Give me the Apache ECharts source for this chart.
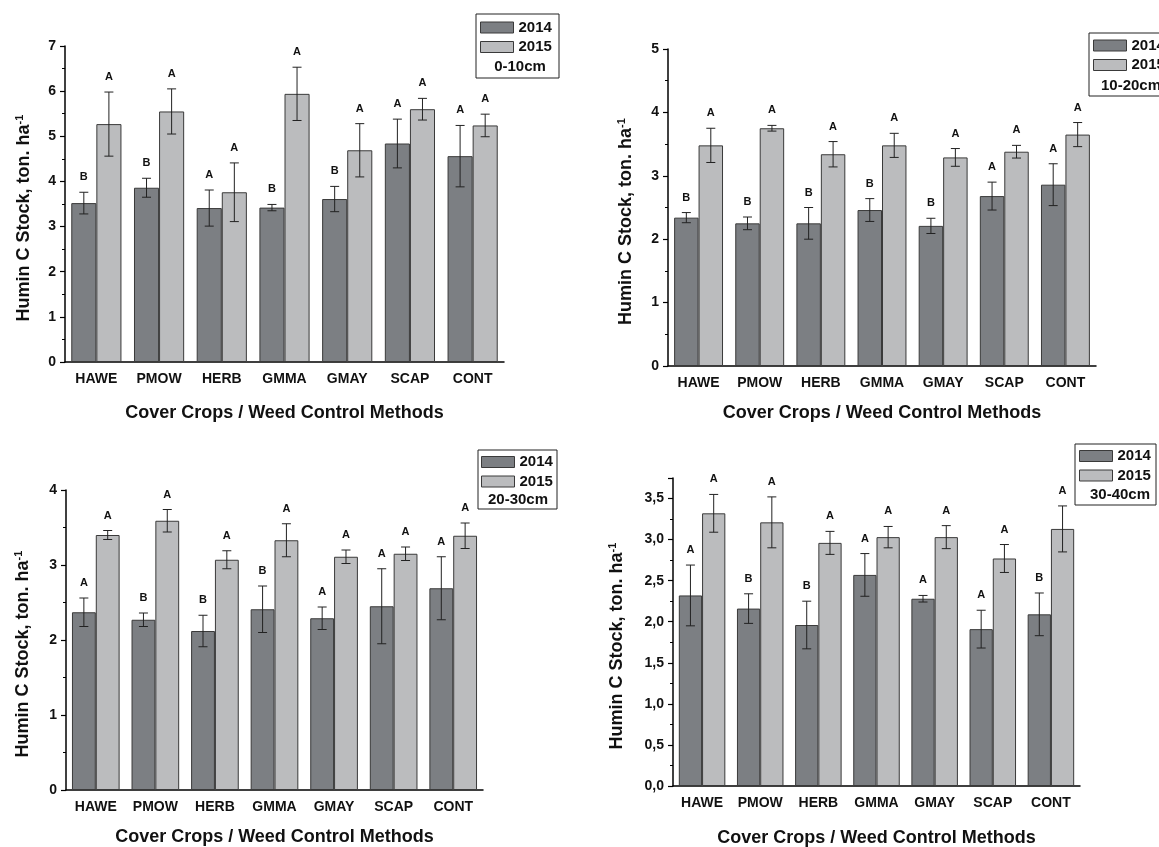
<!DOCTYPE html>
<html>
<head>
<meta charset="utf-8">
<script src="https://cdn.jsdelivr.net/npm/echarts@6/dist/echarts.min.js"></script>
<style>
html,body{margin:0;padding:0;background:#fff;}
#chart{width:1159px;height:847px;}
</style>
</head>
<body>
<div id="chart"></div>
<script>
// ---------------- DATA ----------------
const categories = ['HAWE','PMOW','HERB','GMMA','GMAY','SCAP','CONT'];
const seriesNames = ['2014','2015'];
const depthLabels = ['0-10cm','10-20cm','20-30cm','30-40cm'];
const yTitle = 'Humin C Stock, ton. ha';
const xTitle = 'Cover Crops / Weed Control Methods';

// 0-10cm
const d1_2014 = [3.52,3.86,3.41,3.42,3.61,4.84,4.56];
const e1_2014 = [0.24,0.21,0.40,0.07,0.28,0.54,0.68];
const d1_2015 = [5.27,5.55,3.76,5.94,4.69,5.60,5.24];
const e1_2015 = [0.71,0.50,0.65,0.59,0.59,0.24,0.25];
const l1_2014 = ['B','B','A','B','B','A','A'];
const l1_2015 = ['A','A','A','A','A','A','A'];

// 10-20cm
const d2_2014 = [2.34,2.25,2.25,2.46,2.21,2.68,2.86];
const e2_2014 = [0.08,0.10,0.25,0.18,0.12,0.22,0.33];
const d2_2015 = [3.48,3.75,3.34,3.48,3.29,3.38,3.65];
const e2_2015 = [0.27,0.045,0.20,0.19,0.14,0.10,0.19];
const l2_2014 = ['B','B','B','B','B','A','A'];
const l2_2015 = ['A','A','A','A','A','A','A'];

// 20-30cm
const d3_2014 = [2.37,2.27,2.12,2.41,2.29,2.45,2.69];
const e3_2014 = [0.19,0.09,0.21,0.31,0.15,0.50,0.42];
const d3_2015 = [3.40,3.59,3.07,3.33,3.11,3.15,3.39];
const e3_2015 = [0.06,0.15,0.12,0.22,0.09,0.09,0.17];
const l3_2014 = ['A','B','B','B','A','A','A'];
const l3_2015 = ['A','A','A','A','A','A','A'];

// 30-40cm
const d4_2014 = [2.32,2.16,1.96,2.57,2.28,1.91,2.09];
const e4_2014 = [0.37,0.18,0.29,0.26,0.04,0.23,0.26];
const d4_2015 = [3.32,3.21,2.96,3.03,3.03,2.77,3.13];
const e4_2015 = [0.23,0.31,0.14,0.13,0.14,0.17,0.28];
const l4_2014 = ['A','B','B','A','A','A','B'];
const l4_2015 = ['A','A','A','A','A','A','A'];

const yMax = [7,5,4,3.75];
const yInterval = [1,1,1,0.5];

// ---------------- STYLE / LAYOUT ----------------
const FONT = '"Liberation Sans", Arial, sans-serif';
const COL_DARK = '#7c7f83';
const COL_LIGHT = '#bbbcbe';
const COL_EDGE = '#3a3a3a';

const panels = [
  {d:[d1_2014,d1_2015], e:[e1_2014,e1_2015], l:[l1_2014,l1_2015],
   grid:{left:65, top:46, width:439, height:316}, yGap:30, xGap:42, comma:false,
   legend:{left:480, top:19.5}, box:[476,14,83,64], depth:[520,67]},
  {d:[d2_2014,d2_2015], e:[e2_2014,e2_2015], l:[l2_2014,l2_2015],
   grid:{left:668, top:49, width:428, height:317}, yGap:31, xGap:38, comma:false,
   legend:{left:1093, top:37.5}, box:[1089,33,95,63], depth:[1131,86]},
  {d:[d3_2014,d3_2015], e:[e3_2014,e3_2015], l:[l3_2014,l3_2015],
   grid:{left:66, top:490, width:417, height:300}, yGap:32, xGap:38, comma:false,
   legend:{left:481, top:454}, box:[478,450,79,59], depth:[518,500]},
  {d:[d4_2014,d4_2015], e:[e4_2014,e4_2015], l:[l4_2014,l4_2015],
   grid:{left:673, top:478, width:407, height:308}, yGap:45, xGap:43, comma:true,
   legend:{left:1079, top:448}, box:[1075,444,81,61], depth:[1120,495]}
];

const grids = [], xAxes = [], yAxes = [], series = [], legends = [], graphics = [];

function errRender(errs, letters, side) {
  return function (params, api) {
    const i = api.value(0), v = api.value(1);
    const e = errs[params.dataIndex];
    const band = api.size([1, 0])[0];
    const c = api.coord([i, v]);
    const x = c[0] + side * 0.2 * band;
    const top = api.coord([i, v + e])[1];
    const bot = api.coord([i, v - e])[1];
    const cap = 4.5;
    const ls = {stroke: '#222', lineWidth: 1};
    return {
      type: 'group',
      children: [
        {type: 'line', shape: {x1: x, y1: top, x2: x, y2: bot}, style: ls},
        {type: 'line', shape: {x1: x - cap, y1: top, x2: x + cap, y2: top}, style: ls},
        {type: 'line', shape: {x1: x - cap, y1: bot, x2: x + cap, y2: bot}, style: ls},
        {type: 'text', x: x, y: top - 15,
         style: {text: letters[params.dataIndex], fill: '#111',
                 font: 'bold 11px ' + FONT, align: 'center', verticalAlign: 'middle'}}
      ]
    };
  };
}

panels.forEach(function (p, k) {
  grids.push(Object.assign({outerBoundsMode: 'none', containLabel: false}, p.grid));
  // main category axis (ticks at category centres)
  xAxes.push({
    type: 'category', gridIndex: k, data: categories,
    name: xTitle, nameLocation: 'middle', nameGap: p.xGap,
    nameTextStyle: {fontFamily: FONT, fontWeight: 'bold', fontSize: 18, color: '#111'},
    axisLine: {lineStyle: {color: '#000', width: 1.5}},
    axisTick: {alignWithLabel: true, length: 6, lineStyle: {color: '#000', width: 1.2}},
    axisLabel: {fontFamily: FONT, fontWeight: 'bold', fontSize: 14, color: '#111', margin: 10, interval: 0}
  });
  // overlay axis for short ticks at category boundaries
  xAxes.push({
    type: 'category', gridIndex: k, data: categories,
    axisLine: {show: false},
    axisTick: {alignWithLabel: false, length: 3, lineStyle: {color: '#000', width: 1.2}},
    axisLabel: {show: false}
  });
  yAxes.push({
    type: 'value', gridIndex: k, min: 0, max: yMax[k], interval: yInterval[k],
    name: '{t|' + yTitle + '}{s|-1}', nameLocation: 'middle', nameGap: p.yGap, nameRotate: 90,
    nameTextStyle: {
      fontFamily: FONT, fontWeight: 'bold', fontSize: 18, color: '#111',
      padding: [0, 28, 0, 0],
      rich: {
        t: {fontFamily: FONT, fontWeight: 'bold', fontSize: 18, color: '#111'},
        s: {fontFamily: FONT, fontWeight: 'bold', fontSize: 11, color: '#111', verticalAlign: 'top', padding: [0, 0, 10, 0]}
      }
    },
    splitLine: {show: false},
    axisLine: {show: true, lineStyle: {color: '#000', width: 1.5}},
    axisTick: {show: true, length: 5, lineStyle: {color: '#000', width: 1.2}},
    minorTick: {show: true, splitNumber: 2, length: 3, lineStyle: {color: '#000', width: 1}},
    axisLabel: {
      fontFamily: FONT, fontWeight: 'bold', fontSize: 14, color: '#111', margin: 9,
      showMaxLabel: (k !== 3),
      formatter: p.comma ? function (v) { return v.toFixed(1).replace('.', ','); } : function (v) { return String(v); }
    }
  });
  const xi = 2 * k;
  [0, 1].forEach(function (s) {
    series.push({
      name: seriesNames[s], type: 'bar', xAxisIndex: xi, yAxisIndex: k,
      data: p.d[s], barGap: '0%', barCategoryGap: '20%',
      itemStyle: {color: s === 0 ? COL_DARK : COL_LIGHT, borderColor: COL_EDGE, borderWidth: 1},
      emphasis: {disabled: true}, z: 2
    });
  });
  [0, 1].forEach(function (s) {
    series.push({
      type: 'custom', xAxisIndex: xi, yAxisIndex: k, z: 5, silent: true,
      data: p.d[s].map(function (v, i) { return [i, v]; }),
      encode: {x: 0, y: 1},
      renderItem: errRender(p.e[s], p.l[s], s === 0 ? -1 : 1)
    });
  });
  legends.push({
    data: seriesNames.map(function (n) { return {name: n, icon: 'rect'}; }),
    orient: 'vertical', left: p.legend.left, top: p.legend.top, padding: 0,
    itemWidth: 33, itemHeight: 11, itemGap: 3.5, selectedMode: false,
    itemStyle: {borderColor: COL_EDGE, borderWidth: 1},
    textStyle: {fontFamily: FONT, fontWeight: 'bold', fontSize: 15, color: '#111', lineHeight: 16}
  });
  graphics.push({
    type: 'rect', shape: {x: p.box[0], y: p.box[1], width: p.box[2], height: p.box[3]},
    style: {fill: 'none', stroke: '#222', lineWidth: 1}, silent: true
  });
  graphics.push({
    type: 'text', x: p.depth[0], y: p.depth[1],
    style: {text: depthLabels[k], font: 'bold 15px ' + FONT, fill: '#111', align: 'center', verticalAlign: 'middle'},
    silent: true
  });
});

const chart = echarts.init(document.getElementById('chart'), null, {renderer: 'canvas'});
chart.setOption({
  backgroundColor: '#ffffff',
  animation: false,
  grid: grids,
  xAxis: xAxes,
  yAxis: yAxes,
  legend: legends,
  series: series,
  graphic: graphics
});
</script>
</body>
</html>
